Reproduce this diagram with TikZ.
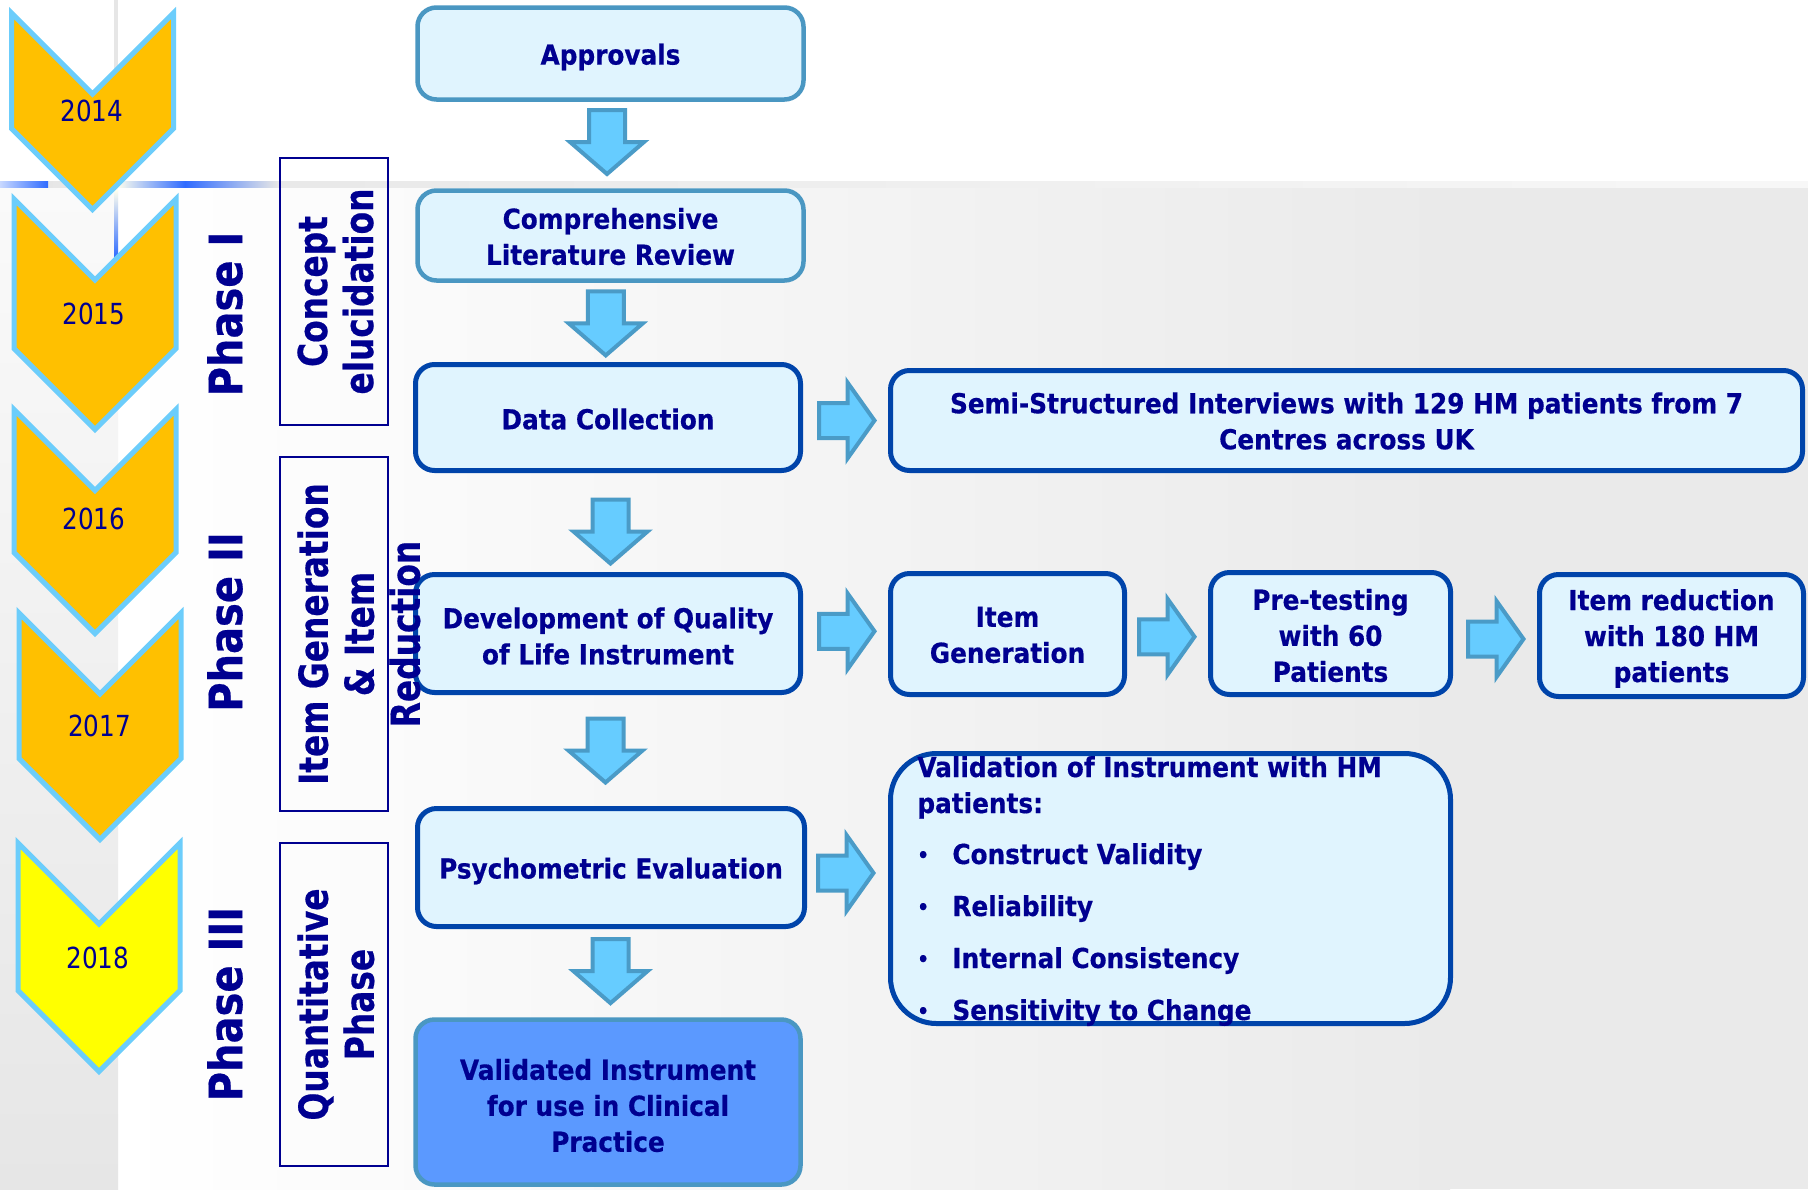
\documentclass[tikz,border=0pt]{standalone}
\usepackage{fontspec}
\usetikzlibrary{calc}

% Type faces: one bold sans, narrowed a little for each role
\newfontfamily\boxfont{DejaVu Sans}[FakeStretch=0.9, FakeBold=0.5]
\newfontfamily\yearfont{DejaVu Sans}[FakeStretch=0.85]
\newfontfamily\phasefont{DejaVu Sans}[FakeStretch=0.87, FakeBold=0.5]
\newfontfamily\sidefont{DejaVu Sans}[FakeStretch=0.82, FakeBold=0.5]

\definecolor{ink}{HTML}{000090}
\definecolor{boxfill}{HTML}{E0F4FE}
\definecolor{darkrim}{HTML}{0044AA}
\definecolor{steelrim}{HTML}{4A97C2}
\definecolor{arrowfill}{HTML}{66CCFF}
\definecolor{arrowrim}{HTML}{4A9BC7}
\definecolor{finalfill}{HTML}{5B99FF}
\definecolor{chevorange}{HTML}{FFC000}
\definecolor{chevyellow}{HTML}{FFFF00}
\definecolor{chevrim}{HTML}{6CCDFB}
\definecolor{bggray}{HTML}{EAEAEA}
\definecolor{linegray}{HTML}{E6E6E6}
\definecolor{stripTop}{HTML}{FAFAFA}
\definecolor{stripBot}{HTML}{E6E6E6}
\definecolor{glowblue}{HTML}{2F6BFF}
\definecolor{paleblue}{HTML}{C8D8FF}
\definecolor{paleyellow}{HTML}{FFFFEE}

\tikzset{
  txt/.style={text=ink, font=\boxfont\bfseries\fontsize{13.75}{18}\selectfont},
  boxtext/.style={txt, inner sep=0pt, align=center},
  stepbox/.style={rounded corners=9.5pt, fill=boxfill, inner sep=0pt},
  darkstep/.style={stepbox, draw=darkrim, line width=2.5pt},
  steelstep/.style={stepbox, draw=steelrim, line width=2.25pt},
  blockarrow/.style={draw=arrowrim, fill=arrowfill, line width=2pt, line join=miter},
  sidebox/.style={draw=ink, line width=1pt},
  sidelbl/.style={text=ink, font=\sidefont\bfseries\fontsize{20}{23}\selectfont,
                  rotate=90, anchor=north, inner sep=0pt, align=center},
  phaselbl/.style={text=ink, font=\phasefont\bfseries\fontsize{23}{23}\selectfont,
                   rotate=90, inner sep=0pt},
  yearlbl/.style={text=ink, font=\yearfont\fontsize{14.5}{14.5}\selectfont, inner sep=0pt},
  listtxt/.style={txt, inner sep=0pt, anchor=base west},
  chevron/.style={draw=chevrim, line width=2.5pt, line join=miter},
  downblk/.pic={
    \draw[blockarrow] (-18,-32.5) -- (18,-32.5) -- (18,-0.5) -- (37,-0.5)
      -- (0,31.5) -- (-37,-0.5) -- (-18,-0.5) -- cycle;
  },
  rightblk/.pic={
    \draw[blockarrow] (-28.5,-17.5) -- (0,-17.5) -- (0,-38) -- (27,0)
      -- (0,38) -- (0,17.5) -- (-28.5,17.5) -- cycle;
  }
}

% year chevron: centre x, top y, side length, fill colour
\newcommand\chevronpath[4]{%
  \draw[chevron, fill=#4] (#1-81,#2) -- (#1,#2+81) -- (#1+81,#2)
    -- (#1+81,#2+#3) -- (#1,#2+#3+81) -- (#1-81,#2+#3) -- cycle;}
\newcommand\smallbullet{\raisebox{1pt}{\fontsize{10}{10}\selectfont •}}

\begin{document}
\begin{tikzpicture}[x=0.5pt,y=-0.5pt]
\useasboundingbox (0,0) rectangle (1808,1189);

% ---------- background ----------
\fill[white] (0,0) rectangle (1808,1189);
\shade[left color=white, right color=bggray] (118,187) rectangle (1450,1189);
\fill[bggray] (1449,187) rectangle (1808,1189);
\shade[top color=stripTop, bottom color=stripBot] (0,187) rectangle (118,1189);
\fill[linegray] (114,0) rectangle (118,181);
\shade[left color=linegray, right color=white!97!black] (0,181) rectangle (1808,187);
\shade[left color=paleblue, right color=glowblue] (0,181) rectangle (48,187);
\shade[left color=paleyellow, right color=glowblue] (117,181) rectangle (185,187);
\shade[left color=glowblue, right color=linegray] (185,181) rectangle (277,187);
\shade[top color=paleyellow, bottom color=glowblue] (114,190) rectangle (118,257);

% ---------- year chevrons ----------
\chevronpath{92.5}{13}{115.5}{chevorange}
\chevronpath{95}{199}{149.5}{chevorange}
\chevronpath{95}{409.5}{143}{chevorange}
\chevronpath{100}{613}{145.5}{chevorange}
\chevronpath{99}{843}{147.5}{chevyellow}

\node[yearlbl] (y2014) at (92,111) {2014};
\node[yearlbl] (y2015) at (94,314) {2015};
\node[yearlbl] (y2016) at (94,519) {2016};
\node[yearlbl] (y2017) at (99.5,726) {2017};
\node[yearlbl] (y2018) at (98,957.5) {2018};

% ---------- phase labels ----------
\node[phaselbl] (ph1) at (225,314) {Phase I};
\node[phaselbl] (ph2) at (225,622) {Phase II};
\node[phaselbl] (ph3) at (225,1004) {Phase III};

\node[sidebox, minimum width=54pt, minimum height=133.5pt] (sb1) at (334,291.5) {};
\node[sidebox, minimum width=54pt, minimum height=177pt] (sb2) at (334,634) {};
\node[sidebox, minimum width=54pt, minimum height=161.5pt] (sb3) at (334,1004.5) {};

% ---------- main column ----------
\node[steelstep, minimum width=193pt, minimum height=46pt] (appr) at (610.5,53.5) {};
\node[steelstep, minimum width=193pt, minimum height=45pt] (comp) at (610.5,235.5) {};
\node[darkstep, minimum width=192.5pt, minimum height=53pt] (dc) at (608,417.5) {};
\node[darkstep, minimum width=192.5pt, minimum height=59pt] (dev) at (608,633.5) {};
\node[darkstep, minimum width=193.5pt, minimum height=59pt] (psy) at (611,867.5) {};
\node[steelstep, fill=finalfill, minimum width=192.5pt, minimum height=82.5pt] (vinst) at (608,1102) {};

\node[boxtext] (appr-t) at ($(appr.center)+(0,3.5)$) {Approvals};
\node[boxtext] (comp-t) at ($(comp.center)+(0,1)$) {Comprehensive\\Literature Review};
\node[boxtext] (dc-t) at ($(dc.center)+(0,1.5)$) {Data Collection};
\node[boxtext] (dev-t) at ($(dev.center)+(0,2.5)$) {Development of Quality\\of Life Instrument};
\node[boxtext] (psy-t) at ($(psy.center)+(0,3.5)$) {Psychometric Evaluation};
\node[boxtext] (vinst-t) at ($(vinst.center)+(0,3.5)$) {Validated Instrument\\for use in Clinical\\Practice};

% ---------- right-hand steps ----------
\node[darkstep, minimum width=456pt, minimum height=50pt] (semi) at (1346.5,420.5) {};
\node[darkstep, minimum width=117pt, minimum height=60.5pt] (igen) at (1007.5,634) {};
\node[darkstep, minimum width=120pt, minimum height=61pt] (pret) at (1330.5,633.5) {};
\node[darkstep, minimum width=132pt, minimum height=61pt] (ired) at (1671.5,635.5) {};
\node[darkstep, rounded corners=23pt, minimum width=280pt, minimum height=135pt] (valb)
  at (1170.5,888.5) {};

\node[boxtext] (semi-t) at ($(semi.center)+(0,0.5)$)
  {Semi-Structured Interviews with 129 HM patients from 7\\Centres across UK};
\node[boxtext] (igen-t) at ($(igen.center)+(0,1)$) {Item\\Generation};
\node[boxtext] (pret-t) at ($(pret.center)+(0,2)$) {Pre-testing\\with 60\\Patients};
\node[boxtext] (ired-t) at ($(ired.center)+(0,3)$) {Item reduction\\with 180 HM\\patients};

\node[listtxt] (vh1) at (917,777) {Validation of Instrument with HM};
\node[listtxt] (vh2) at (917,813) {patients:};
\node[listtxt] (bu1) at (917,864) {\smallbullet};
\node[listtxt] (it1) at (952,864) {Construct Validity};
\node[listtxt] (bu2) at (917,916) {\smallbullet};
\node[listtxt] (it2) at (952,916) {Reliability};
\node[listtxt] (bu3) at (917,968) {\smallbullet};
\node[listtxt] (it3) at (952,968) {Internal Consistency};
\node[listtxt] (bu4) at (917,1020) {\smallbullet};
\node[listtxt] (it4) at (952,1020) {Sensitivity to Change};

% ---------- block arrows between steps ----------
\pic at ($(appr.south)!0.5!(comp.north)+(-3.5,-2.5)$) {downblk};
\pic at ($(comp.south)!0.5!(dc.north)+(-3.5,1.5)$) {downblk};
\pic at ($(dc.south)!0.5!(dev.north)+(2.5,9.5)$) {downblk};
\pic at ($(dev.south)!0.5!(psy.north)+(-4,0.5)$) {downblk};
\pic at ($(psy.south)!0.5!(vinst.north)+(1,-1.5)$) {downblk};

\pic at ($(dc.east)!0.5!(semi.west)+(2,1.5)$) {rightblk};
\pic at ($(dev.east)!0.5!(igen.west)+(2,-2.5)$) {rightblk};
\pic at ($(igen.east)!0.5!(pret.west)+(0,3)$) {rightblk};
\pic at ($(pret.east)!0.5!(ired.west)+(1.5,4.5)$) {rightblk};
\pic at ($(psy.east)!0.5!(psy.east -| valb.west)+(-1,5.5)$) {rightblk};

% ---------- phase descriptions (drawn over the column) ----------
\node[sidelbl] (sl1) at (297,291.5) {Concept\\elucidation};
\node[sidelbl] (sl2) at (297,634) {Item Generation\\\& Item\\Reduction};
\node[sidelbl] (sl3) at (297,1004.5) {Quantitative\\Phase};
\end{tikzpicture}
\end{document}
